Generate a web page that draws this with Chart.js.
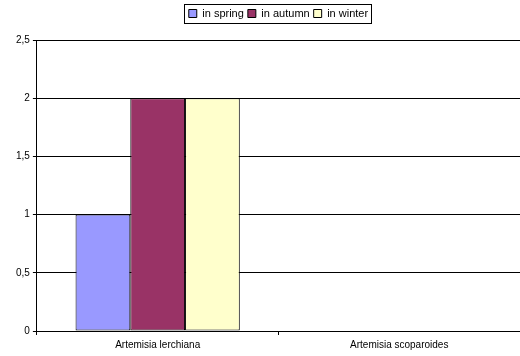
<!DOCTYPE html>
<html><head><meta charset="utf-8">
<script src="https://cdn.jsdelivr.net/npm/chart.js@4/dist/chart.umd.min.js"></script>
<style>html,body{margin:0;padding:0;background:#fff}#w{width:520px;height:356px}</style>
</head><body><div id="w"><canvas id="c"></canvas></div>
<script>
const categories = ["Artemisia lerchiana", "Artemisia scoparoides"];
const seriesNames = ["in spring", "in autumn", "in winter"];
const springValues = [1, 0];
const autumnValues = [2, 0];
const winterValues = [2, 0];
const yTickStep = 0.5;
const yMax = 2.5;
const colors = ["#9999FF", "#993366", "#FFFFCC"];
const FONT = "'Liberation Sans', Arial, sans-serif";

const legendBox = {
  id: 'legendBox',
  afterInit(chart) {
    const l = chart.legend;
    if (l && !l._patched) {
      const orig = l.fit;
      l.fit = function () { orig.call(this); this.height += 11; };
      l._patched = true;
    }
  },
  afterLayout(chart) {
    const l = chart.legend, a = chart.chartArea;
    const dx = (a.left + a.right) / 2 - (l.left + l.right) / 2;
    l.left += dx; l.right += dx;
  },
  afterDraw(chart) {
    const l = chart.legend;
    if (!l || !l.legendHitBoxes || !l.legendHitBoxes.length) return;
    const hb = l.legendHitBoxes;
    let x0 = Math.min(...hb.map(h => h.left)), x1 = Math.max(...hb.map(h => h.left + h.width));
    let y0 = Math.min(...hb.map(h => h.top)), y1 = Math.max(...hb.map(h => h.top + h.height));
    const ctx = chart.ctx;
    ctx.save();
    ctx.strokeStyle = '#000'; ctx.lineWidth = 1;
    ctx.strokeRect(Math.round(x0) - 4.5, Math.round(y0) - 3.5, Math.round(x1 - x0) + 8, Math.round(y1 - y0) + 8);
    ctx.restore();
  }
};

new Chart(document.getElementById('c'), {
  type: 'bar',
  data: {
    labels: categories,
    datasets: [
      { label: seriesNames[0], data: springValues, backgroundColor: colors[0] },
      { label: seriesNames[1], data: autumnValues, backgroundColor: colors[1] },
      { label: seriesNames[2], data: winterValues, backgroundColor: colors[2] }
    ].map(d => Object.assign(d, { borderColor: '#000', borderWidth: 1, borderSkipped: false, categoryPercentage: 0.68, barPercentage: 1 }))
  },
  options: {
    responsive: true, maintainAspectRatio: false, animation: false,
    layout: { padding: { left: 13, right: 0, top: 4, bottom: 0 } },
    plugins: {
      tooltip: { enabled: false },
      legend: {
        position: 'top',
        labels: { font: { family: FONT, size: 11 }, color: '#000', boxWidth: 8, boxHeight: 8, padding: 4 },
      }
    },
    scales: {
      x: {
        afterFit: s => { s.height = 25; },
        grid: { drawOnChartArea: false, drawTicks: true, tickLength: 4, offset: true, color: '#000' },
        border: { color: '#000', width: 1 },
        ticks: { font: { family: FONT, size: 10 }, color: '#000', padding: 4, maxRotation: 0 }
      },
      y: {
        min: 0, max: yMax,
        grid: { color: '#000', tickLength: 4, lineWidth: 1 },
        border: { color: '#000', width: 1 },
        ticks: { stepSize: yTickStep, font: { family: FONT, size: 10 }, color: '#000', padding: 3,
          callback: v => String(v).replace('.', ',') }
      }
    }
  },
  plugins: [legendBox]
});
</script></body></html>
